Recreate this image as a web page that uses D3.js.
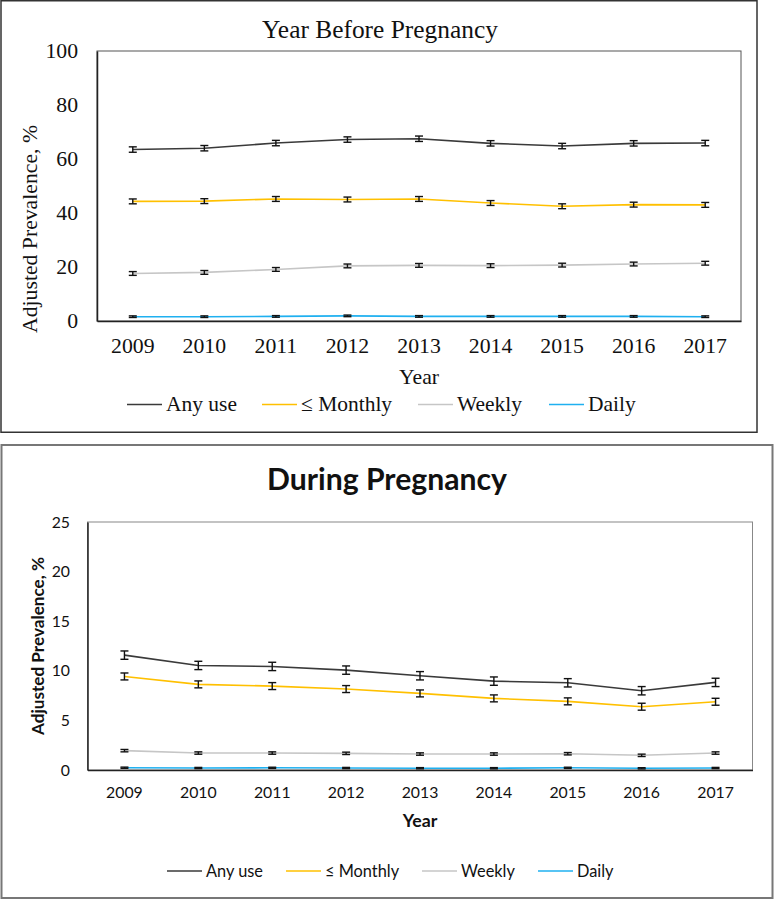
<!DOCTYPE html>
<html>
<head>
<meta charset="utf-8">
<script src="https://cdn.jsdelivr.net/npm/d3@7"></script>
<style>
  html, body { margin: 0; padding: 0; background: #fff; }
  svg { display: block; }
</style>
</head>
<body>
<svg id="chart" width="774" height="900"></svg>
<script>
// ---------------- DATA ----------------
const years = ["2009","2010","2011","2012","2013","2014","2015","2016","2017"];
const seriesNames = ["Any use", "\u2264 Monthly", "Weekly", "Daily"];

// Year before pregnancy (adjusted prevalence, %)
const beforeAnyUse  = [63.5, 64.0, 65.9, 67.2, 67.5, 65.8, 64.8, 65.8, 65.9];
const beforeMonthly = [44.3, 44.4, 45.2, 45.0, 45.2, 43.7, 42.5, 43.1, 43.0];
const beforeWeekly  = [17.6, 18.0, 19.1, 20.4, 20.6, 20.5, 20.7, 21.1, 21.4];
const beforeDaily   = [1.6, 1.6, 1.7, 1.9, 1.7, 1.7, 1.7, 1.7, 1.6];
const beforeErr     = [1.0, 0.9, 0.7, 0.3];   // half-width of CI per series
const beforeTicks   = [0, 20, 40, 60, 80, 100];

// During pregnancy (adjusted prevalence, %)
const duringAnyUse  = [11.58, 10.54, 10.44, 10.07, 9.50, 8.96, 8.79, 7.99, 8.83];
const duringMonthly = [9.43, 8.63, 8.46, 8.16, 7.72, 7.22, 6.92, 6.38, 6.88];
const duringWeekly  = [1.95, 1.71, 1.71, 1.68, 1.61, 1.61, 1.64, 1.48, 1.71];
const duringDaily   = [0.23, 0.20, 0.22, 0.20, 0.18, 0.18, 0.22, 0.17, 0.20];
const duringErr     = [0.42, 0.35, 0.12, 0.06];
const duringTicks   = [0, 5, 10, 15, 20, 25];

const colors = ["#3A3A3A", "#FFC000", "#C6C6C6", "#1FB0F0"];

// ---------------- HELPERS ----------------
const svg = d3.select("#chart");

function fitSize(str, family, weight, target) {
  const t = svg.append("text").attr("font-family", family).attr("font-weight", weight)
    .attr("font-size", 100).text(str);
  const w = t.node().getComputedTextLength();
  t.remove();
  return 100 * target / w;
}

function drawPanel(cfg) {
  const g = svg.append("g");
  // outer frame
  g.append("rect").attr("x", cfg.frame[0]).attr("y", cfg.frame[1])
    .attr("width", cfg.frame[2]).attr("height", cfg.frame[3])
    .attr("fill", "none").attr("stroke", cfg.frameColor).attr("stroke-width", cfg.frameWidth);

  const x = d3.scaleBand().domain(years).range([cfg.left, cfg.right]);
  const y = d3.scaleLinear().domain([0, cfg.ticks[cfg.ticks.length - 1]]).range([cfg.bottom, cfg.top]);

  // plot area border (top/right)
  g.append("rect").attr("x", cfg.left).attr("y", cfg.top)
    .attr("width", cfg.right - cfg.left).attr("height", cfg.bottom - cfg.top)
    .attr("fill", "none").attr("stroke", cfg.plotBorder).attr("stroke-width", 1);

  const tickFont = fitSize(cfg.tickRef[0], cfg.font, "normal", cfg.tickRef[1]);

  // y axis
  const yAxis = d3.axisLeft(y).tickValues(cfg.ticks).tickSize(0).tickPadding(cfg.yPad);
  const ya = g.append("g").attr("transform", `translate(${cfg.left},0)`).call(yAxis);
  ya.select(".domain").attr("stroke", "#222").attr("stroke-width", 1.5);
  ya.selectAll("text").attr("font-family", cfg.font).attr("font-size", tickFont).attr("fill", "#111");

  // x axis
  const xAxis = d3.axisBottom(x).tickSize(0).tickPadding(cfg.xPad);
  const xa = g.append("g").attr("transform", `translate(0,${cfg.bottom})`).call(xAxis);
  xa.select(".domain").attr("stroke", "#222").attr("stroke-width", 1.5);
  xa.selectAll("text").attr("font-family", cfg.font).attr("font-size", tickFont).attr("fill", "#111");

  // title
  g.append("text").attr("x", cfg.titlePos[0]).attr("y", cfg.titlePos[1])
    .attr("text-anchor", "middle").attr("font-family", cfg.font).attr("font-weight", cfg.titleWeight)
    .attr("font-size", fitSize(cfg.title, cfg.font, cfg.titleWeight, cfg.titleWidth))
    .attr("fill", "#111").text(cfg.title);

  // axis titles
  g.append("text").attr("x", (cfg.left + cfg.right) / 2).attr("y", cfg.xTitleY)
    .attr("text-anchor", "middle").attr("font-family", cfg.font).attr("font-weight", cfg.axisWeight)
    .attr("font-size", fitSize("Year", cfg.font, cfg.axisWeight, cfg.xTitleWidth))
    .attr("fill", "#111").text("Year");
  g.append("text").attr("transform", `translate(${cfg.yTitlePos[0]},${cfg.yTitlePos[1]}) rotate(-90)`)
    .attr("text-anchor", "middle").attr("dominant-baseline", "central")
    .attr("font-family", cfg.font).attr("font-weight", cfg.axisWeight)
    .attr("font-size", fitSize("Adjusted Prevalence, %", cfg.font, cfg.axisWeight, cfg.yTitleWidth))
    .attr("fill", "#111").text("Adjusted Prevalence, %");

  // series
  const cx = d => x(d) + x.bandwidth() / 2;
  const line = d3.line().x((d, i) => cx(years[i])).y(d => y(d));
  const capW = 4;
  cfg.series.forEach((vals, si) => {
    g.append("path").datum(vals).attr("d", line).attr("fill", "none")
      .attr("stroke", colors[si]).attr("stroke-width", 1.6);
  });
  cfg.series.forEach((vals, si) => {
    const e = cfg.err[si];
    const eb = g.append("g").attr("stroke", "#111").attr("stroke-width", 1.4);
    vals.forEach((v, i) => {
      const px = cx(years[i]);
      eb.append("line").attr("x1", px).attr("x2", px).attr("y1", y(v - e)).attr("y2", y(v + e));
      eb.append("line").attr("x1", px - capW).attr("x2", px + capW).attr("y1", y(v - e)).attr("y2", y(v - e));
      eb.append("line").attr("x1", px - capW).attr("x2", px + capW).attr("y1", y(v + e)).attr("y2", y(v + e));
    });
  });

  // legend
  const legFont = fitSize("Any use", cfg.font, "normal", cfg.legendRef);
  seriesNames.forEach((name, si) => {
    const lx = cfg.legendX[si];
    g.append("line").attr("x1", lx).attr("x2", lx + 35).attr("y1", cfg.legendLineY).attr("y2", cfg.legendLineY)
      .attr("stroke", colors[si]).attr("stroke-width", 1.6);
    g.append("text").attr("x", lx + 39).attr("y", cfg.legendY)
      .attr("font-family", cfg.font).attr("font-size", legFont).attr("fill", "#111").text(name);
  });
}

drawPanel({
  frame: [1, 0.75, 756, 431.5], frameColor: "#333", frameWidth: 1.5,
  left: 97, right: 741, top: 51, bottom: 321, plotBorder: "#555",
  ticks: beforeTicks, font: "Liberation Serif",
  tickRef: ["2009", 43.5], yPad: 19, xPad: 17,
  title: "Year Before Pregnancy", titleWeight: "normal", titlePos: [380, 38], titleWidth: 236,
  axisWeight: "normal", xTitleY: 384, xTitleWidth: 40,
  yTitlePos: [30, 229], yTitleWidth: 208,
  series: [beforeAnyUse, beforeMonthly, beforeWeekly, beforeDaily], err: beforeErr,
  legendX: [127, 262, 418, 549], legendLineY: 404.5, legendY: 411, legendRef: 71
});

drawPanel({
  frame: [1.5, 445, 771, 453], frameColor: "#777", frameWidth: 2,
  left: 87.5, right: 752.5, top: 522, bottom: 770, plotBorder: "#888",
  ticks: duringTicks, font: "Lato",
  tickRef: ["2009", 36.7], yPad: 17.5, xPad: 17,
  title: "During Pregnancy", titleWeight: "bold", titlePos: [387, 490], titleWidth: 240,
  axisWeight: "bold", xTitleY: 827, xTitleWidth: 34.6,
  yTitlePos: [37, 646], yTitleWidth: 178,
  series: [duringAnyUse, duringMonthly, duringWeekly, duringDaily], err: duringErr,
  legendX: [167, 286, 422, 538], legendLineY: 871, legendY: 877, legendRef: 57
});
</script>
</body>
</html>
